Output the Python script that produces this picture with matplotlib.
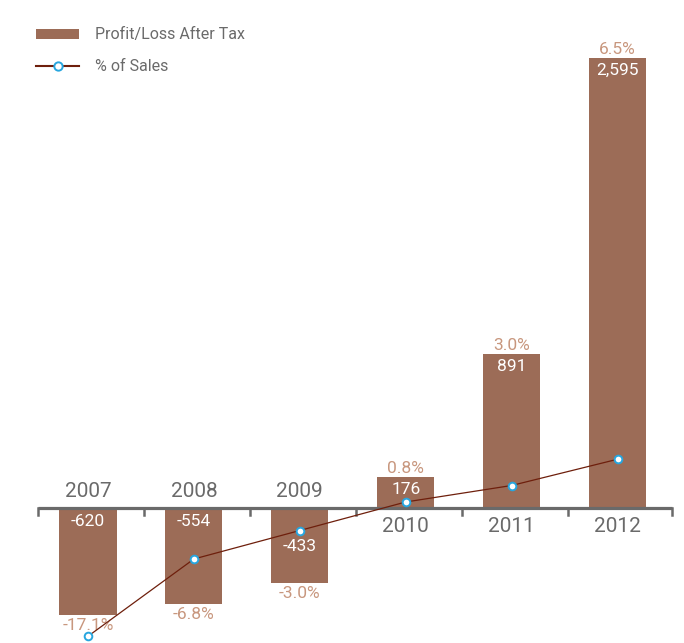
import matplotlib
matplotlib.use("Agg")
import matplotlib.pyplot as plt
from matplotlib.patches import Patch
from matplotlib.lines import Line2D

years = ["2007", "2008", "2009", "2010", "2011", "2012"]
profit = [-620, -554, -433, 176, 891, 2595]
pct_sales = [-17.1, -6.8, -3.0, 0.8, 3.0, 6.5]
profit_labels = ["-620", "-554", "-433", "176", "891", "2,595"]
pct_labels = ["-17.1%", "-6.8%", "-3.0%", "0.8%", "3.0%", "6.5%"]

BAR = "#9c6c57"
PCT = "#c8977e"
LINE = "#6e1f0c"
MARK = "#27a6df"
GREY = "#6a6a6a"
WEIGHT = "normal"
FAMILY = ["Roboto", "DejaVu Sans"]

plt.rcParams["font.family"] = FAMILY

W, H = 684, 643
fig = plt.figure(figsize=(W / 100, H / 100), dpi=100)
ax = fig.add_axes([0, 0, 1, 1])

# pixel geometry
zero_px = 508.0          # y pixel of the baseline
bar_scale = 0.1733       # px per unit of profit
pct_scale = 7.5          # px per percentage point
x0_px, step_px = 88.0, 105.9

ax.set_xlim(-x0_px / step_px, (W - x0_px) / step_px)
ax.set_ylim(-(H - zero_px) / bar_scale, zero_px / bar_scale)
ax.axis("off")

x = list(range(len(years)))
ax.bar(x, profit, width=0.54, color=BAR, zorder=2)

# baseline with downward ticks at category boundaries
left, right = -1 + 0.528, 5 + 0.51
ax.plot([left, right], [0, 0], color=GREY, lw=2.3, solid_capstyle="butt", zorder=3)
tick_len = 7 / bar_scale
for k in range(-1, 6):
    tx = k + 0.528 if k < 5 else right
    ax.plot([tx, tx], [0, -tick_len], color=GREY, lw=1.8, zorder=3)

VAL_FS, PCT_FS, YEAR_FS = 12.5, 12.5, 15
pt = 1 / bar_scale  # one pixel in data units
for i, (v, lab, plab) in enumerate(zip(profit, profit_labels, pct_labels)):
    if v >= 0:
        ax.text(i, v - 5 * pt, lab, ha="center", va="top", color="white",
                fontsize=VAL_FS, fontweight=WEIGHT, zorder=4)
        ax.text(i, v + 1 * pt, plab, ha="center", va="bottom", color=PCT,
                fontsize=PCT_FS, fontweight=WEIGHT, zorder=4)
        ax.text(i, -9 * pt, years[i], ha="center", va="top", color=GREY,
                fontsize=YEAR_FS, fontweight=WEIGHT, zorder=4)
    else:
        off = 31 if i == 2 else 6
        ax.text(i, -off * pt, lab, ha="center", va="top", color="white",
                fontsize=VAL_FS, fontweight=WEIGHT, zorder=4)
        ax.text(i, v - 3 * pt, plab, ha="center", va="top", color=PCT,
                fontsize=PCT_FS, fontweight=WEIGHT, zorder=4)
        ax.text(i, 7 * pt, years[i], ha="center", va="bottom", color=GREY,
                fontsize=YEAR_FS, fontweight=WEIGHT, zorder=4)

ax2 = ax.twinx()
ax2.set_position([0, 0, 1, 1])
ax2.set_ylim(-(H - zero_px) / pct_scale, zero_px / pct_scale)
ax2.axis("off")
ax2.plot(x, pct_sales, color=LINE, lw=0.9, marker="o", markersize=5.5,
         markerfacecolor="white", markeredgecolor=MARK, markeredgewidth=1.4,
         zorder=5, clip_on=False)

handles = [
    Patch(facecolor=BAR, edgecolor="none"),
    Line2D([0], [0], color=LINE, lw=1.5, marker="o", markersize=6,
           markerfacecolor="white", markeredgecolor=MARK, markeredgewidth=1.4),
]
fig.legend(handles, ["Profit/Loss After Tax", "% of Sales"],
           loc="upper left", bbox_to_anchor=(22 / W, 1 - 13 / H),
           frameon=False, handlelength=2.65, handleheight=0.55, handletextpad=1.0,
           labelspacing=1.05, labelcolor=GREY,
           prop={"family": FAMILY, "weight": WEIGHT, "size": 11.5})

fig.savefig("out.png", dpi=100)
